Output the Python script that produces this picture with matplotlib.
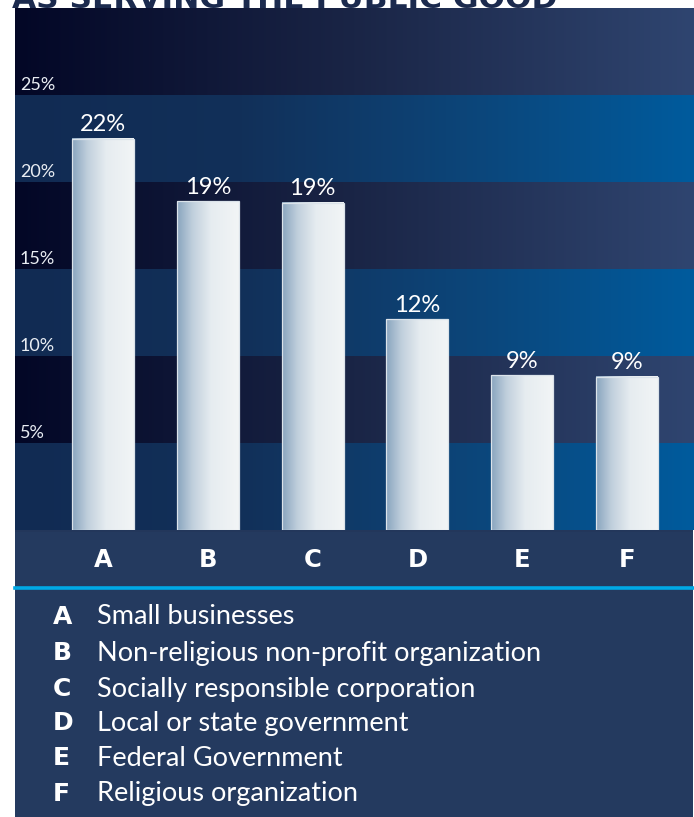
import numpy as np
import matplotlib
matplotlib.use("Agg")
import matplotlib.pyplot as plt
from matplotlib.colors import LinearSegmentedColormap
from matplotlib.patches import Rectangle
from matplotlib.lines import Line2D

# data
letters = ["A", "B", "C", "D", "E", "F"]
values = [22.5, 18.9, 18.8, 12.1, 8.9, 8.8]
value_labels = ["22%", "19%", "19%", "12%", "9%", "9%"]
names = ["Small businesses",
         "Non-religious non-profit organization",
         "Socially responsible corporation",
         "Local or state government",
         "Federal Government",
         "Religious organization"]
tick_vals = [5, 10, 15, 20, 25]
tick_labels = ["5%", "10%", "15%", "20%", "25%"]
title = "AS SERVING THE PUBLIC GOOD"

W, H = 694, 817
fig = plt.figure(figsize=(W / 100, H / 100), dpi=100)
fig.patch.set_facecolor("white")

# panel behind the x labels and legend
fig.add_artist(Rectangle((15 / W, 0), 678 / W, (H - 530) / H,
                         transform=fig.transFigure, facecolor="#243a5f",
                         edgecolor="none", zorder=0))
fig.add_artist(Rectangle((15 / W, 1 - 532 / H), 678 / W, 54 / H,
                         transform=fig.transFigure, facecolor="#23375b",
                         edgecolor="none", zorder=0))
fig.add_artist(Line2D([15 / W, 693 / W], [1 - 587.5 / H] * 2,
                      transform=fig.transFigure, color="#00a9e6", lw=2.6, zorder=1))

ax = fig.add_axes([15 / W, 1 - 530 / H, 678 / W, 522 / H])
ax.axis("off")

dark = LinearSegmentedColormap.from_list("dark", ["#030726", "#1a2546", "#2f4570"])
blue = LinearSegmentedColormap.from_list("blue", ["#112b53", "#123059", "#0c4579", "#005b9d"])
barcm = LinearSegmentedColormap.from_list("bar", [(0, "#88a4be"), (0.25, "#c0cfdc"),
                                                  (0.55, "#e6ecf0"), (1, "#f2f5f6")])
grad = np.linspace(0, 1, 256).reshape(1, -1)

x0, x1 = -0.84, 5.63
for k in range(6):
    cm = blue if k % 2 == 0 else dark
    ax.imshow(grad, cmap=cm, aspect="auto", extent=[x0, x1, 5 * k, 5 * k + 5],
              interpolation="bilinear", zorder=0)

bw = 0.59
for i, v in enumerate(values):
    ax.imshow(grad, cmap=barcm, aspect="auto",
              extent=[i - bw / 2, i + bw / 2, 0, v], interpolation="bilinear", zorder=2)
    ax.add_patch(Rectangle((i - bw / 2, 0), bw, v, facecolor="none",
                           edgecolor="#dbe3ea", lw=0.9, zorder=3))
    ax.text(i, v + 0.2, value_labels[i], ha="center", va="bottom", color="white",
            fontsize=17, family="Lato", zorder=4)
    ax.text(i, -1.75, letters[i], ha="center", va="center", color="white",
            fontsize=17.5, fontweight="bold", family="DejaVu Sans", clip_on=False)

for t, lab in zip(tick_vals, tick_labels):
    ax.text(0.007, t + 0.1, lab, transform=ax.get_yaxis_transform(), ha="left",
            va="bottom", color="#e9edf3", fontsize=13, family="Lato", zorder=4)

ax.set_xlim(x0, x1)
ax.set_ylim(0, 30)

# legend
row_y = [617, 653, 689, 723, 758, 794]
for lt, nm, y in zip(letters, names, row_y):
    fig.text(53 / W, 1 - y / H, lt, ha="left", va="center", color="white",
             fontsize=18, fontweight="bold", family="DejaVu Sans")
    fig.text(97 / W, 1 - y / H, nm, ha="left", va="center", color="white",
             fontsize=19.5, family="Lato")

# clipped heading above the panel
fig.text(12 / W, 1 - 7.5 / H, title, ha="left", va="baseline", color="#1b2a4e",
         fontsize=22.5, fontweight="bold", family="DejaVu Sans")

fig.savefig("out.png", dpi=100)
